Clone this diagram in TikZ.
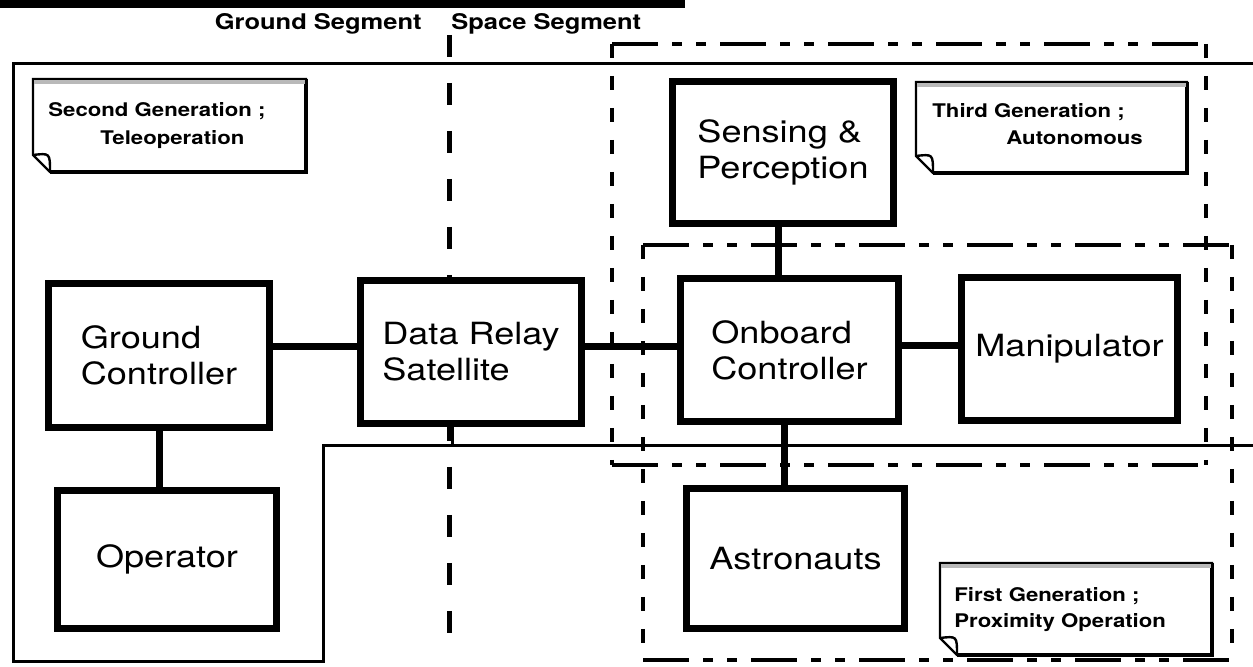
\documentclass[tikz,border=0pt]{standalone}
\usepackage{fontspec}
\setmainfont{TeX Gyre Heros}[FakeStretch=1.18]
\usetikzlibrary{backgrounds}
\newcommand\boxfnt{\fontsize{15.3pt}{18pt}\selectfont}
\newcommand\notefnt{\bfseries\fontsize{9.4pt}{11pt}\selectfont}
\newcommand\headfnt{\bfseries\fontsize{10.8pt}{13pt}\selectfont}
\tikzset{
  blk/.style={draw, line width=3.5pt, fill=white, font=\boxfnt, align=left, inner sep=0pt},
  conn/.style={line width=3.5pt},
  genh/.style={line width=2.4pt, dash pattern=on 23pt off 7pt on 5pt off 7pt on 5pt off 7pt},
  genv/.style={line width=2.2pt, dash pattern=on 7pt off 9pt},
  divider/.style={line width=2.5pt, dash pattern=on 11pt off 13pt},
  busline/.style={line width=1.5pt},
  notebox/.style={line width=1.2pt, fill=white},
  notetext/.style={font=\notefnt, anchor=base west, inner sep=0pt},
  headtext/.style={font=\headfnt, inner sep=0pt},
}
\begin{document}
\begin{tikzpicture}[x=0.5pt, y=-0.5pt]
\useasboundingbox (0,0) rectangle (1253,667);
% bus coordinate
\coordinate (bus) at (452,446);
% second generation solid outline
\draw[busline] (1253,64) -- (13,64) -- (13,662) -- (323,662) -- (323,446) -- (bus) -- (1253,446);
% ground/space divider
\draw[divider] (449,35) -- (449,645);
% third generation region
\draw[genh] (612,44) -- (1206,44) (612,465) -- (1206,465);
\draw[genv] (612,44) -- (612,465) (1206,44) -- (1206,465);
% first generation region
\draw[genh] (643,245) -- (1232,245) (643,660) -- (1232,660);
\draw[genv] (643,245) -- (643,660) (1232,245) -- (1232,660);
% blocks
\node[blk, minimum width=110.5pt, minimum height=72pt] (gc) at (159,355.5) {Ground\\Controller};
\node[blk, minimum width=109.5pt, minimum height=69pt] (op) at (167,559.5) {Operator};
\node[blk, minimum width=110.5pt, minimum height=71.5pt] (dr) at (471,352) {Data Relay\\Satellite};
\node[blk, minimum width=110.5pt, minimum height=71pt] (sp) at (783,152.5) {Sensing \&\\Perception};
\node[blk, minimum width=109pt, minimum height=71.5pt] (ob) at (789.5,350) {Onboard\\Controller};
\node[blk, minimum width=108pt, minimum height=71.5pt] (mn) at (1069.5,349) {Manipulator};
\node[blk, minimum width=109pt, minimum height=70pt] (as) at (795.5,558.5) {Astronauts};
% connectors
\begin{scope}[on background layer]
\draw[conn] ([yshift=2.5pt]dr.west -| gc.east) -- ([yshift=2.5pt]dr.west);
\draw[conn] ([yshift=2.5pt]dr.east) -- ([yshift=2.5pt]dr.east -| ob.west);
\draw[conn] ([yshift=2pt]ob.east) -- ([yshift=2pt]ob.east -| mn.west);
\draw[conn] ([xshift=-2.5pt]sp.south) -- ([xshift=-2.5pt]sp.south |- ob.north);
\draw[conn] ([xshift=-5.5pt]as.north |- ob.south) -- ([xshift=-5.5pt]as.north);
\draw[conn] (gc.south) -- (gc.south |- op.north);
\draw[busline] ([xshift=-9.5pt]dr.south) -- (bus);
\end{scope}
% notes
\draw[notebox] (33,79) -- (306,79) -- (306,172) -- (50,172) -- (33,155) -- cycle;
\draw[line width=2pt] (306,79) -- (306,172) -- (50,172);
\fill[gray!55] (34,80) rectangle (305,84);
\draw[line width=1.2pt] (33,155) .. controls (50,153) .. (50,172);
\node[notetext] (n2a) at (48,117) {Second Generation ;};
\node[notetext] (n2b) at (100,145) {Teleoperation};
\draw[notebox] (916,82) -- (1187,82) -- (1187,173) -- (933,173) -- (916,156) -- cycle;
\draw[line width=2pt] (1187,82) -- (1187,173) -- (933,173);
\fill[gray!55] (917,83) rectangle (1186,87);
\draw[line width=1.2pt] (916,156) .. controls (933,154) .. (933,173);
\node[notetext] (n3a) at (932,118) {Third Generation ;};
\node[notetext] (n3b) at (1006,145) {Autonomous};
\draw[notebox] (940,563) -- (1212,563) -- (1212,655) -- (957,655) -- (940,638) -- cycle;
\draw[line width=2pt] (1212,563) -- (1212,655) -- (957,655);
\fill[gray!55] (941,564) rectangle (1211,568);
\draw[line width=1.2pt] (940,638) .. controls (957,636) .. (957,655);
\node[notetext] (n1a) at (954,602) {First Generation ;};
\node[notetext] (n1b) at (954,628) {Proximity Operation};
% header
\fill (0,0) rectangle (685,8);
\node[headtext, anchor=base east] (gs) at (422,30) {Ground Segment};
\node[headtext, anchor=base west] (ss) at (451,30) {Space Segment};
\end{tikzpicture}
\end{document}
